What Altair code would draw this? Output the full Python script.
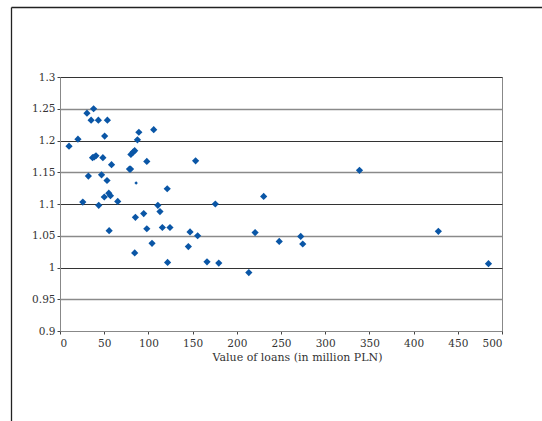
import altair as alt
import pandas as pd

# Value of loans (million PLN) and the corresponding ratio for each bank
loans = [10.2, 20.3, 25.8, 30.5, 32.1, 38.0, 35.2, 43.4, 36.8, 40.7,
         38.7, 43.8, 47.0, 48.5, 50.5, 50.1, 53.6, 53.2, 55.2, 57.1,
         55.6, 58.3, 65.3, 78.6, 79.8, 80.2, 82.9, 84.5, 85.3, 84.5,
         87.6, 89.2, 94.7, 98.2, 98.2, 104.1, 106.0, 110.7, 113.1, 115.8,
         121.3, 121.7, 124.4, 145.2, 147.1, 153.4, 155.7, 166.3, 175.7, 179.6,
         213.6, 220.7, 230.4, 248.0, 272.3, 274.6, 338.8, 428.0, 484.7]
ratio = [1.191, 1.202, 1.103, 1.243, 1.144, 1.250, 1.232, 1.232, 1.173, 1.176,
         1.174, 1.098, 1.146, 1.173, 1.207, 1.111, 1.232, 1.137, 1.117, 1.113,
         1.058, 1.162, 1.104, 1.155, 1.155, 1.178, 1.182, 1.184, 1.079, 1.023,
         1.201, 1.213, 1.085, 1.167, 1.061, 1.038, 1.217, 1.098, 1.088, 1.063,
         1.124, 1.008, 1.063, 1.033, 1.056, 1.168, 1.050, 1.009, 1.100, 1.007,
         0.992, 1.055, 1.112, 1.041, 1.049, 1.037, 1.153, 1.057, 1.006]

# One observation drawn with a smaller marker
small_loans = [86.1]
small_ratio = [1.133]

x_ticks = [0, 50, 100, 150, 200, 250, 300, 350, 400, 450, 500]
y_ticks = [0.9, 0.95, 1.0, 1.05, 1.1, 1.15, 1.2, 1.25, 1.3]

df = pd.DataFrame({"loans": loans, "ratio": ratio})
df_small = pd.DataFrame({"loans": small_loans, "ratio": small_ratio})

FONT = "DejaVu Serif"
BLUE = "#0a56a6"

# half-step grid lines are drawn lighter
half_step = "round(datum.value * 100) % 10 == 5"

x_enc = alt.X(
    "loans:Q",
    scale=alt.Scale(domain=[0, 500], nice=False, zero=False),
    axis=alt.Axis(
        values=x_ticks, title="Value of loans (in million PLN)", grid=False,
        tickSize=3, labelPadding=4, titlePadding=3, labelOverlap=False,
        titleX=237, titleAlign="center",
        domainColor="#888888", tickColor="#444444",
    ),
)
y_enc = alt.Y(
    "ratio:Q",
    scale=alt.Scale(domain=[0.9, 1.3], nice=False, zero=False),
    axis=alt.Axis(
        values=y_ticks, title=None, format=".2~f", grid=True,
        labelOverlap=False, labelFlush=False, tickCount=9,
        gridColor={"condition": {"test": half_step, "value": "#8a8a8a"}, "value": "#333333"},
        gridWidth={"condition": {"test": half_step, "value": 1.5}, "value": 1},
        tickSize=3, labelPadding=2,
        domainColor="#888888", tickColor="#444444",
    ),
)

points = alt.Chart(df).mark_point(
    shape="diamond", filled=True, size=52, color=BLUE, opacity=1
).encode(x=x_enc, y=y_enc)

small = alt.Chart(df_small).mark_point(
    shape="diamond", filled=True, size=12, color=BLUE, opacity=1
).encode(x="loans:Q", y="ratio:Q")

# Outer frame around the figure (left and top edges)
frame_left = alt.Chart(df_small).mark_rule(color="#222222", strokeWidth=1.3).encode(
    x=alt.value(-48.5), y=alt.value(-69.5), y2=alt.value(400)
)
frame_top = alt.Chart(df_small).mark_rule(color="#222222", strokeWidth=1.3).encode(
    x=alt.value(-48.5), x2=alt.value(520), y=alt.value(-69.5)
)

chart = alt.layer(frame_left, frame_top, points, small).properties(
    width=442,
    height=254,
    autosize=alt.AutoSizeParams(type="none"),
    padding={"left": 60, "top": 77, "right": 40, "bottom": 90},
    background="white",
).configure_view(
    stroke="#888888", strokeWidth=1
).configure_axis(
    labelFont=FONT, titleFont=FONT, labelFontSize=10.5, titleFontSize=11,
    labelColor="#333333", titleColor="#333333", titleFontWeight="normal",
)

chart.save("out.html", embed_options={"renderer": "svg", "actions": False})
